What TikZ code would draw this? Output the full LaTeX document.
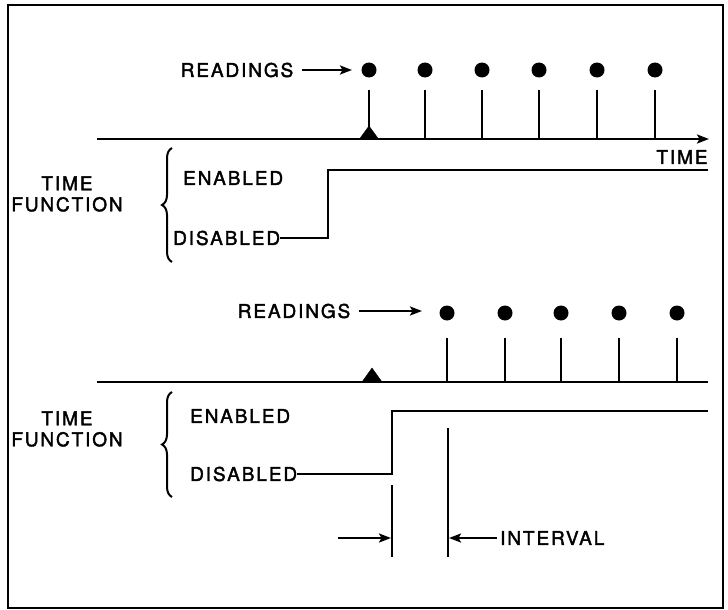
\documentclass[tikz,border=0pt]{standalone}
\usepackage{fontspec}
\setmainfont{TeX Gyre Heros}[LetterSpace=10,FakeBold=2]
\usetikzlibrary{arrows.meta,decorations.pathreplacing}
\begin{document}
\begin{tikzpicture}[x=1pt,y=-1pt,
  lbl/.style={inner sep=0pt,font=\fontsize{19}{21}\selectfont},
  reading/.style={circle,fill=black,inner sep=0pt,minimum size=15pt},
  wire/.style={line width=2.2pt},
  tip/.style={-{Stealth[length=12pt,width=9pt,inset=2.5pt]}},
  trig/.style={fill=black},
  curly/.style={line width=2pt,decorate,decoration={brace,amplitude=10pt}}]
\useasboundingbox (0,0) rectangle (728,610);
\draw[line width=2.6pt] (8,5) rectangle (723,608);

% ---------- upper timing chart ----------
\node[lbl] (rdA) at (237,70) {READINGS};
\coordinate (rdAend) at (352,70);
\draw[wire,tip] (rdA.east) ++(9,0) -- (rdAend);
\foreach \i/\x in {1/369,2/425,3/482,4/539,5/597,6/655}{
  \node[reading] (dA\i) at (\x,70) {};
  \coordinate (sA\i) at (\x,90);
  \coordinate (bA\i) at (\x,139);
  \draw[wire] (sA\i) -- (bA\i);
}
\coordinate (axAs) at (97,139);
\coordinate (axAe) at (709,139);
\draw[wire,tip] (axAs) -- (axAe);
\draw[trig] (359.5,139) -- (369,126) -- (378.5,139) -- cycle;
\node[lbl] (timeA) at (682,157) {TIME};

\node[lbl,align=center] (tfA) at (67,194) {TIME\\FUNCTION};
\draw[curly] (172,262) -- (172,148);
\node[lbl,anchor=west] (enA) at (183,178) {ENABLED};
\node[lbl,anchor=west] (disA) at (173,238) {DISABLED};
\coordinate (stA1) at (328,238);
\coordinate (stA2) at (328,170);
\coordinate (stA3) at (708,170);
\draw[wire] (disA.east) -- (stA1) -- (stA2) -- (stA3);

% ---------- lower timing chart ----------
\node[lbl] (rdB) at (294,311) {READINGS};
\coordinate (rdBend) at (422,311);
\draw[wire,tip] (rdB.east) ++(9,0) -- (rdBend);
\foreach \i/\x in {1/447,2/505,3/561,4/619,5/677}{
  \node[reading] (dB\i) at (\x,313) {};
  \coordinate (sB\i) at (\x,338);
  \coordinate (bB\i) at (\x,382);
  \draw[wire] (sB\i) -- (bB\i);
}
\coordinate (axBs) at (97,382);
\coordinate (axBe) at (708,382);
\draw[wire] (axBs) -- (axBe);
\draw[trig] (362,382) -- (372,368) -- (382,382) -- cycle;

\node[lbl,align=center] (tfB) at (67,429) {TIME\\FUNCTION};
\draw[curly] (172,497) -- (172,392);
\node[lbl,anchor=west] (enB) at (190,416) {ENABLED};
\node[lbl,anchor=west] (disB) at (190,474) {DISABLED};
\coordinate (stB1) at (392,474);
\coordinate (stB2) at (392,411);
\coordinate (stB3) at (708,411);
\draw[wire] (disB.east) -- (stB1) -- (stB2) -- (stB3);

% interval markers
\coordinate (ivL1) at (392,485);
\coordinate (ivL2) at (392,557);
\coordinate (ivR1) at (448,428);
\coordinate (ivR2) at (448,557);
\draw[wire] (ivL1) -- (ivL2);
\draw[wire] (ivR1) -- (ivR2);
\coordinate (ivLa) at (338,538);
\coordinate (ivLb) at (391,538);
\draw[wire,tip] (ivLa) -- (ivLb);
\node[lbl,anchor=west] (ivl) at (500,538) {INTERVAL};
\coordinate (ivRb) at (449,538);
\draw[wire,tip] (ivl.west) ++(-3,0) -- (ivRb);
\end{tikzpicture}
\end{document}
